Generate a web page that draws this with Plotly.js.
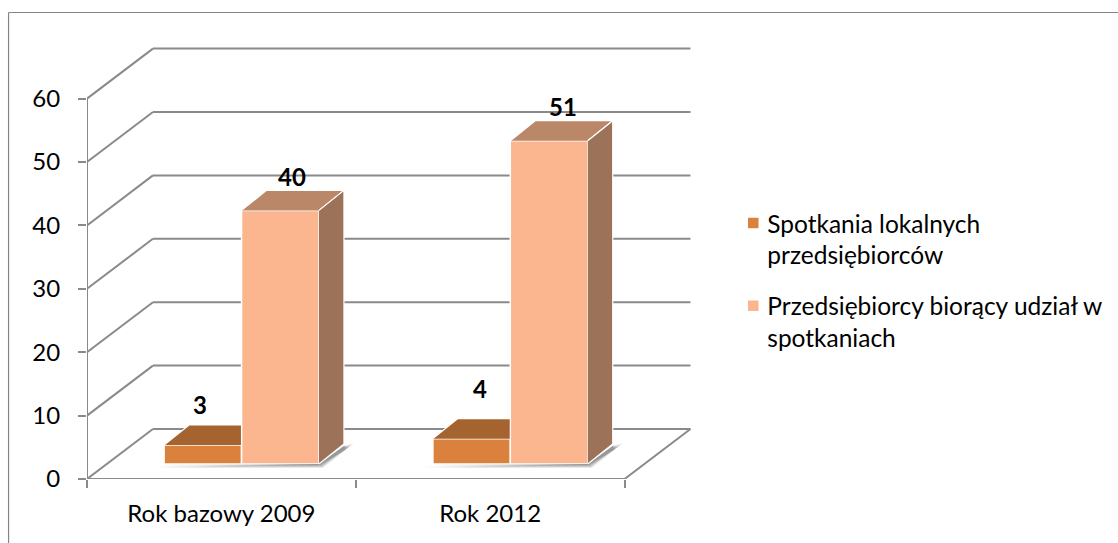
<!DOCTYPE html>
<html><head><meta charset="utf-8">
<script src="https://cdn.plot.ly/plotly-3.0.1.min.js"></script>
<style>html,body{margin:0;padding:0;background:#fff;overflow:hidden}</style>
</head><body><div id="chart" style="width:1118px;height:543px"></div>
<script>
const categories = ['Rok bazowy 2009', 'Rok 2012'];
const seriesNames = ['Spotkania lokalnych<br>przedsiębiorców', 'Przedsiębiorcy biorący udział w<br>spotkaniach'];
const spotkania = [3, 4];
const przedsiebiorcy = [40, 51];
const yTicks = [0, 10, 20, 30, 40, 50, 60];
const categoryEdges = [0, 1, 2];
const categoryCentres = [0.5, 1.5];

// pixel scale of the plot
const W = 1118, H = 543, L = 86.5, R = 692, T = 40, B = 479;
const PX = 269;             // pixels per category
const PY = 6.34;            // pixels per value unit
const xr = [0, (R - L) / PX], yr = [0, (B - T) / PY];
const wallDx = 66 / PX, wallDy = 50 / PY;
const barDx = 25 / PX, barDy = 20 / PY;
const barW = 77.5 / PX, barShift = 0.075, baseY = 15 / PY;

const C = {o:'#D9813D', oTop:'#A5642F', p:'#FBB58F', pTop:'#BB8769', pSide:'#9C7359', grid:'#8A8A8A'};
const FONT = 'Lato, Carlito, Calibri, sans-serif';
const traces = [];

// soft shadows on the floor
categoryCentres.forEach(c => {
  const x0 = c + barShift - barW, x1 = c + barShift + barW;
  [[11,4,0.14],[8,3,0.2],[5,2,0.26],[2,1,0.3]].forEach(([s,d,a]) => {
    traces.push({type:'scatter', mode:'lines', fill:'toself', fillcolor:`rgba(95,95,95,${a})`, line:{width:0},
      x:[x0-s/PX, x1+d/PX, x1+(barDx)+(s*0.9)/PX, x1+(barDx), x1],
      y:[baseY-d/PY, baseY-d/PY, baseY+(13+s*0.7)/PY, baseY+barDy-2/PY, baseY],
      showlegend:false, hoverinfo:'skip', xaxis:'x2', cliponaxis:false});
  });
});

// front faces
traces.push({type:'bar', name:seriesNames[0], legendgroup:'a', x:categoryCentres.map(c=>c+barShift), y:spotkania,
  base:[baseY,baseY], width:barW, offset:-barW, marker:{color:C.o, line:{color:'#fff', width:1.5}}});
traces.push({type:'bar', name:seriesNames[1], legendgroup:'b', x:categoryCentres.map(c=>c+barShift), y:przedsiebiorcy,
  base:[baseY,baseY], width:barW, offset:0, marker:{color:C.p, line:{color:'#fff', width:1.5}}});

function face(x, y, color) {
  traces.push({type:'scatter', mode:'lines', fill:'toself', fillcolor:color, x, y,
    line:{color:'#fff', width:1.2}, showlegend:false, hoverinfo:'skip', xaxis:'x2'});
}
categoryCentres.forEach((c, i) => {
  const xc = c + barShift;
  const t0 = baseY + spotkania[i], t1 = baseY + przedsiebiorcy[i];
  // orange top, hidden behind the taller bar on its right
  face([xc-barW, xc-barW+barDx, xc, xc], [t0, t0+barDy, t0+barDy, t0], C.oTop);
  face([xc, xc+barDx, xc+barW+barDx, xc+barW], [t1, t1+barDy, t1+barDy, t1], C.pTop);
  face([xc+barW, xc+barW+barDx, xc+barW+barDx, xc+barW], [t1, t1+barDy, baseY+barDy, baseY], C.pSide);
});

// walls and floor lines that never pass behind a bar
const lx = [], ly = [];
yTicks.forEach(v => { lx.push(0, wallDx, null); ly.push(v, v + wallDy, null); });
lx.push(0, 0, null); ly.push(0, 60, null);
lx.push(0, 2, wallDx + 2, null); ly.push(0, 0, wallDy, null);
traces.push({type:'scatter', mode:'lines', x:lx, y:ly, connectgaps:false, line:{color:C.grid, width:2},
  showlegend:false, hoverinfo:'skip', xaxis:'x2', cliponaxis:false});

// back wall gridlines, below the bars
const shapes = yTicks.map(v => ({type:'line', layer:'below', xref:'x', yref:'y',
  x0:wallDx, x1:wallDx+2, y0:v+wallDy, y1:v+wallDy, line:{color:C.grid, width:2}}));
// chart frame
const fy = 1 + (T - 12.5) / (B - T), fx = (8 - L) / (R - L);
shapes.push({type:'line', xref:'paper', yref:'paper', x0:fx, x1:3, y0:fy, y1:fy, line:{color:'#858585', width:1.2}});
shapes.push({type:'line', xref:'paper', yref:'paper', x0:fx, x1:fx, y0:fy, y1:-1, line:{color:'#858585', width:1.2}});

// data labels
const labelShiftX = [[-3, 12], [8.5, 13.5]];
const labelShiftY = [[40, 34], [50, 34.5]];
const annotations = [];
categoryCentres.forEach((c, i) => {
  const xc = c + barShift;
  annotations.push({x:xc-barW/2, y:baseY+spotkania[i], text:String(spotkania[i]), showarrow:false,
    xshift:labelShiftX[i][0], yshift:labelShiftY[i][0], font:{family:FONT, size:24, color:'#000', weight:700}});
  annotations.push({x:xc+barW/2, y:baseY+przedsiebiorcy[i], text:String(przedsiebiorcy[i]), showarrow:false,
    xshift:labelShiftX[i][1], yshift:labelShiftY[i][1], font:{family:FONT, size:24, color:'#000', weight:700}});
});

const layout = {
  width:W, height:H, autosize:false, paper_bgcolor:'#fff', plot_bgcolor:'#fff',
  margin:{l:L, r:W-R, t:T, b:H-B, pad:0, autoexpand:false},
  barmode:'overlay', bargap:0,
  font:{family:FONT, size:24, color:'#000'},
  xaxis:{type:'linear', range:xr, tickmode:'array', tickvals:categoryCentres, ticktext:categories, ticks:'',
    showgrid:false, zeroline:false, showline:false, ticklabelstandoff:18, fixedrange:true},
  xaxis2:{type:'linear', range:xr, overlaying:'x', anchor:'y', side:'bottom', tickmode:'array', tickvals:categoryEdges, ticktext:['','',''],
    ticks:'outside', ticklen:8, tickwidth:2, tickcolor:C.grid, showgrid:false, zeroline:false, showline:false, fixedrange:true},
  yaxis:{type:'linear', range:yr, tickmode:'array', tickvals:yTicks, ticks:'outside', ticklen:8, tickwidth:2, tickcolor:C.grid,
    showgrid:false, zeroline:false, showline:false, ticklabelstandoff:13, fixedrange:true},
  shapes, annotations,
  legend:{x:1.0583, y:0.634, xanchor:'left', yanchor:'top', tracegroupgap:16, valign:'top', bgcolor:'rgba(0,0,0,0)',
    font:{family:FONT, size:24.5, color:'#000'}},
  showlegend:true
};
Plotly.newPlot('chart', traces, layout, {displayModeBar:false, staticPlot:true}).then(() => {
  // legend swatches sit closer to their text than the library's minimum item width allows
  document.querySelectorAll('.legendsymbols').forEach(g => g.setAttribute('transform', 'translate(6,0)'));
});
</script></body></html>
